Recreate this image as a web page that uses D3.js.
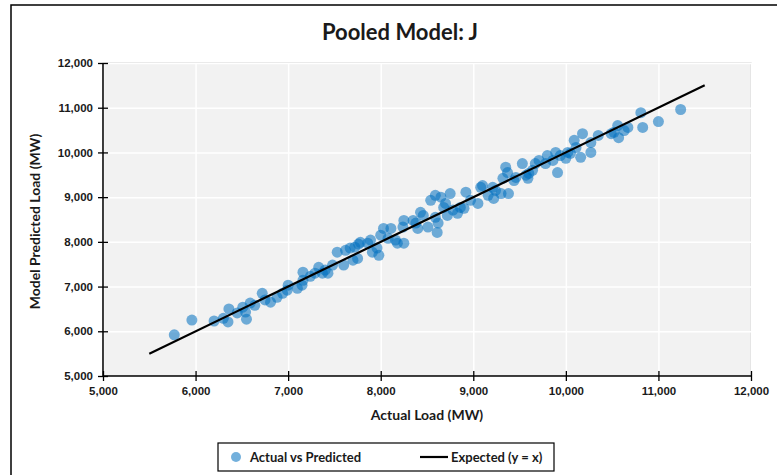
<!DOCTYPE html>
<html>
<head>
<meta charset="utf-8">
<script src="https://cdn.jsdelivr.net/npm/d3@7"></script>
<style>
  body { margin: 0; background: #fff; }
  svg { font-family: Lato, "Open Sans", sans-serif; }
  .tick text { font-size: 11.5px; font-weight: bold; fill: #1a1a1a; }
  .axisLabel { font-size: 14px; font-weight: bold; fill: #1a1a1a; }
  .legendText { font-size: 13px; font-weight: bold; fill: #1a1a1a; }
</style>
</head>
<body>
<svg width="777" height="475"></svg>
<script>
// actual load (MW) of each point
const actual = [5770, 5960, 6200, 6300, 6350, 6360, 6450, 6510, 6550, 6540, 6590, 6640,
  6720, 6750, 6810, 6880, 6940, 6990, 7000, 7100, 7150, 7160, 7160, 7240, 7290, 7330,
  7370, 7400, 7430, 7480, 7530, 7600, 7620, 7670, 7700, 7720, 7750, 7760, 7780, 7860,
  7890, 7910, 7960, 7980, 8000, 8030, 8080, 8110, 8160, 8180, 8240, 8250, 8250, 8350,
  8380, 8400, 8430, 8460, 8510, 8540, 8590, 8590, 8610, 8620, 8650, 8680, 8700, 8720,
  8750, 8780, 8830, 8860, 8900, 8920, 8970, 9050, 9080, 9100, 9160, 9210, 9220, 9240,
  9300, 9320, 9350, 9370, 9380, 9440, 9460, 9530, 9570, 9590, 9600, 9640, 9670, 9710,
  9780, 9800, 9860, 9890, 9910, 9940, 10000, 10020, 10050, 10090, 10110, 10160, 10180,
  10270, 10270, 10350, 10490, 10520, 10560, 10570, 10630, 10670, 10810, 10830, 11000, 11240];
// model predicted load (MW) of each point
const predicted = [5920, 6250, 6230, 6290, 6210, 6500, 6410, 6540, 6270, 6430, 6630, 6580,
  6850, 6700, 6650, 6760, 6850, 6920, 7030, 6960, 7030, 7320, 7140, 7230, 7300, 7430,
  7300, 7370, 7300, 7480, 7770, 7480, 7810, 7860, 7590, 7880, 7630, 7950, 7990, 7970,
  8040, 7770, 7860, 7700, 8150, 8300, 8080, 8300, 8040, 7970, 8330, 8480, 7970, 8480,
  8420, 8300, 8660, 8590, 8330, 8930, 9040, 8550, 8210, 8420, 9000, 8770, 8860, 8590,
  9080, 8710, 8640, 8770, 8750, 9110, 8930, 8860, 9220, 9260, 9040, 9220, 8970, 9150,
  9080, 9420, 9670, 9550, 9080, 9370, 9440, 9750, 9490, 9420, 9530, 9600, 9750, 9820,
  9750, 9930, 9820, 10000, 9550, 9930, 9870, 10000, 9980, 10270, 10110, 9890, 10420,
  10220, 10000, 10380, 10420, 10450, 10600, 10330, 10490, 10560, 10890, 10560, 10690, 10960];
// expected line y = x
const lineEnds = [5500, 11500];
const tickValues = [5000, 6000, 7000, 8000, 9000, 10000, 11000, 12000];

const svg = d3.select('svg');
const plotLeft = 103, plotRight = 751, plotTop = 63, plotBottom = 376;

const xScale = d3.scaleLinear().domain([5000, 12000]).range([plotLeft, plotRight]);
const yScale = d3.scaleLinear().domain([5000, 12000]).range([plotBottom, plotTop]);

// outer chart border
svg.append('rect')
  .attr('x', 11).attr('y', 5)
  .attr('width', 820).attr('height', 520)
  .attr('fill', 'none').attr('stroke', '#000').attr('stroke-width', 1.5);

// title
svg.append('text')
  .attr('x', 400).attr('y', 40)
  .attr('text-anchor', 'middle')
  .style('font-size', '22px').style('font-weight', 'bold').attr('fill', '#1a1a1a')
  .text('Pooled Model: J');

// plot area
svg.append('rect')
  .attr('x', plotLeft).attr('y', plotTop)
  .attr('width', plotRight - plotLeft).attr('height', plotBottom - plotTop)
  .attr('fill', '#f2f2f2').attr('stroke', '#c8c8c8');

// white grid
svg.append('g')
  .attr('transform', `translate(0, ${plotBottom})`)
  .call(d3.axisBottom(xScale).tickValues(tickValues).tickSize(-(plotBottom - plotTop)).tickFormat(''))
  .call(g => g.select('.domain').remove())
  .selectAll('line').attr('stroke', '#fff').attr('stroke-width', 1.5);

svg.append('g')
  .attr('transform', `translate(${plotLeft}, 0)`)
  .call(d3.axisLeft(yScale).tickValues(tickValues).tickSize(-(plotRight - plotLeft)).tickFormat(''))
  .call(g => g.select('.domain').remove())
  .selectAll('line').attr('stroke', '#fff').attr('stroke-width', 1.5);

// points
svg.append('g')
  .selectAll('circle')
  .data(actual)
  .enter()
  .append('circle')
  .attr('cx', d => xScale(d))
  .attr('cy', (d, i) => yScale(predicted[i]))
  .attr('r', 5.5)
  .attr('fill', '#0070c0')
  .attr('fill-opacity', 0.55);

// expected line
svg.append('line')
  .attr('x1', xScale(lineEnds[0])).attr('y1', yScale(lineEnds[0]))
  .attr('x2', xScale(lineEnds[1])).attr('y2', yScale(lineEnds[1]))
  .attr('stroke', '#000').attr('stroke-width', 2.2);

// axes with crossing ticks
const fmt = d3.format(',');
svg.append('g')
  .attr('transform', `translate(0, ${plotBottom})`)
  .call(d3.axisBottom(xScale).tickValues(tickValues).tickSize(5).tickPadding(6).tickFormat(fmt))
  .call(g => g.select('.domain').attr('stroke-width', 1.5).attr('d', `M${plotLeft},0H${plotRight}`))
  .call(g => g.selectAll('.tick line').attr('y1', -5).attr('stroke-width', 1.3));

svg.append('g')
  .attr('transform', `translate(${plotLeft}, 0)`)
  .call(d3.axisLeft(yScale).tickValues(tickValues).tickSize(5).tickPadding(5).tickFormat(fmt))
  .call(g => g.select('.domain').attr('stroke-width', 1.5).attr('d', `M0,${plotTop}V${plotBottom}`))
  .call(g => g.selectAll('.tick line').attr('x1', 5).attr('stroke-width', 1.3));

// axis titles
svg.append('text')
  .attr('class', 'axisLabel')
  .attr('text-anchor', 'middle')
  .attr('x', (plotLeft + plotRight) / 2).attr('y', 420)
  .text('Actual Load (MW)');

svg.append('text')
  .attr('class', 'axisLabel')
  .attr('text-anchor', 'middle')
  .attr('transform', `translate(40, ${(plotTop + plotBottom) / 2 + 2}) rotate(-90)`)
  .text('Model Predicted Load (MW)');

// legend
const legend = svg.append('g');
legend.append('rect')
  .attr('x', 218).attr('y', 443).attr('width', 336).attr('height', 28)
  .attr('fill', '#fff').attr('stroke', '#000').attr('stroke-width', 1.2);
legend.append('circle')
  .attr('cx', 236).attr('cy', 457).attr('r', 5)
  .attr('fill', '#0070c0').attr('fill-opacity', 0.55);
legend.append('text')
  .attr('class', 'legendText').attr('x', 250).attr('y', 462)
  .text('Actual vs Predicted');
legend.append('line')
  .attr('x1', 420).attr('x2', 448).attr('y1', 457).attr('y2', 457)
  .attr('stroke', '#000').attr('stroke-width', 2.2);
legend.append('text')
  .attr('class', 'legendText').attr('x', 451).attr('y', 462)
  .text('Expected (y = x)');
</script>
</body>
</html>
